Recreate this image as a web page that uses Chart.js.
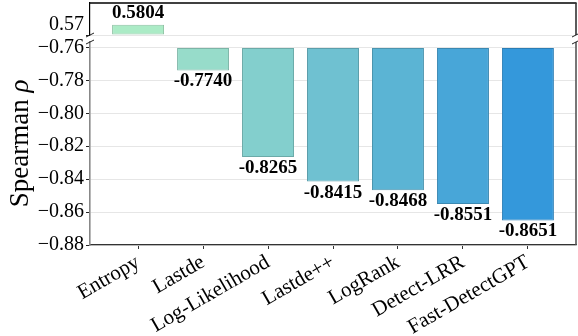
<!DOCTYPE html>
<html>
<head>
<meta charset="utf-8">
<script src="https://cdn.jsdelivr.net/npm/chart.js@4.4.1/dist/chart.umd.min.js"></script>
<style>
  html, body { margin: 0; padding: 0; background: #fff; }
  #wrap { position: relative; width: 578px; height: 336px; overflow: hidden; background: #fff; }
  #upper { position: absolute; left: 0; top: 0; width: 578px; height: 38px; }
  #lower { position: absolute; left: 0; top: 38px; width: 578px; height: 298px; }
</style>
</head>
<body>
<div id="wrap">
  <div id="upper"><canvas id="cUpper"></canvas></div>
  <div id="lower"><canvas id="cLower"></canvas></div>
</div>
<script>
// Detector names and their Spearman correlation
const categories = ['Entropy', 'Lastde', 'Log-Likelihood', 'Lastde++', 'LogRank', 'Detect-LRR', 'Fast-DetectGPT'];
const spearman = [0.5804, -0.7740, -0.8265, -0.8415, -0.8468, -0.8551, -0.8651];

// Tick values for the two halves of the broken axis
const upperTicks = [0.57];
const lowerTicks = [-0.88, -0.86, -0.84, -0.82, -0.80, -0.78, -0.76];

// Bars hang from the edge of each panel
const upperBase = 0.57;
const lowerBase = -0.76;

// Green-to-blue palette, one colour per detector
const barColors = ['#abebc6', '#97dcca', '#83cfcd', '#6fc1d1', '#5bb4d4', '#48a6d8', '#3498db'];

const SERIF = '"Liberation Serif", "DejaVu Serif", "Times New Roman", serif';

function darken(hex, f) {
  const n = parseInt(hex.slice(1), 16);
  const r = Math.round(((n >> 16) & 255) * f);
  const g = Math.round(((n >> 8) & 255) * f);
  const b = Math.round((n & 255) * f);
  return `rgb(${r},${g},${b})`;
}
const edgeColors = barColors.map(c => darken(c, 0.82));

function fmtTick(v) {
  return (v < 0 ? '\u2212' : '') + Math.abs(v).toFixed(2);
}

// Value labels under (negative) or above (positive) each bar
const valueLabels = {
  id: 'valueLabels',
  afterDatasetsDraw(chart) {
    const ctx = chart.ctx;
    const ds = chart.data.datasets[0];
    const meta = chart.getDatasetMeta(0);
    ctx.save();
    ctx.font = `bold 19px ${SERIF}`;
    ctx.fillStyle = '#000';
    ctx.textAlign = 'center';
    ctx.textBaseline = 'middle';
    meta.data.forEach((el, i) => {
      const v = ds.data[i].y;
      if (v == null) return;
      const txt = v.toFixed(4);
      ctx.fillText(txt, el.x, v < 0 ? el.y + 11 : el.y - 12);
    });
    ctx.restore();
  }
};

// Remaining spines and the diagonal break marks
const frame = {
  id: 'frame',
  afterDraw(chart, args, opts) {
    const { ctx, chartArea: a } = chart;
    ctx.save();
    ctx.lineCap = 'butt';
    if (opts.top) {
      ctx.strokeStyle = '#000';
      ctx.lineWidth = 1.4;
      ctx.beginPath();
      ctx.moveTo(a.left - 0.6, a.top);
      ctx.lineTo(a.right + 0.6, a.top);
      ctx.stroke();
    }
    ctx.strokeStyle = opts.rightColor;
    ctx.lineWidth = 1.6;
    ctx.beginPath();
    ctx.moveTo(a.right, a.top);
    ctx.lineTo(a.right, a.bottom);
    ctx.stroke();
    // break marks
    const y = opts.breakAt === 'bottom' ? a.bottom : a.top;
    ctx.strokeStyle = '#222';
    ctx.lineWidth = 1;
    [a.left, a.right].forEach(x => {
      ctx.beginPath();
      ctx.moveTo(x - 4, y + 2);
      ctx.lineTo(x + 4, y - 2);
      ctx.stroke();
    });
    ctx.restore();
  }
};

// Axis title shared by both panels, with an italic rho
const yTitle = {
  id: 'yTitle',
  afterDraw(chart, args, opts) {
    const ctx = chart.ctx;
    ctx.save();
    ctx.translate(opts.x, opts.y);
    ctx.rotate(-Math.PI / 2);
    ctx.fillStyle = '#000';
    ctx.textBaseline = 'alphabetic';
    const fUp = `27px ${SERIF}`;
    const fIt = `italic 27px ${SERIF}`;
    const a = 'Spearman ';
    const b = '\u03c1';
    ctx.font = fUp; const wa = ctx.measureText(a).width;
    ctx.font = fIt; const wb = ctx.measureText(b).width;
    const start = -(wa + wb) / 2;
    ctx.font = fUp; ctx.textAlign = 'left';
    ctx.fillText(a, start, 0);
    ctx.font = fIt;
    ctx.fillText(b, start + wa, 0);
    ctx.restore();
  }
};

const xMin = -0.74, xMax = 6.74;
const categoryTicks = s => { s.ticks = categories.map((c, i) => ({ value: i })); };

function barDataset(keep, base) {
  return {
    data: categories.map((c, i) => ({ x: i, y: keep(spearman[i]) ? spearman[i] : null })),
    base: base,
    backgroundColor: barColors,
    borderColor: edgeColors,
    borderWidth: 1,
    borderSkipped: false,
    barPercentage: 0.8,
    categoryPercentage: 1.0
  };
}

const common = {
  responsive: true,
  maintainAspectRatio: false,
  devicePixelRatio: 1,
  animation: false,
  events: []
};

// Upper panel: the positive correlation
new Chart(document.getElementById('cUpper'), {
  type: 'bar',
  data: { datasets: [barDataset(v => v >= 0, upperBase)] },
  options: Object.assign({}, common, {
    layout: { padding: { top: 3, right: 2, bottom: 3, left: 0 } },
    plugins: {
      legend: { display: false }, tooltip: { enabled: false },
      frame: { top: true, rightColor: '#333', breakAt: 'bottom' }
    },
    scales: {
      x: {
        type: 'linear', min: xMin, max: xMax, offset: false, display: false,
        grid: { offset: false },
        afterBuildTicks: categoryTicks
      },
      y: {
        min: 0.57, max: 0.6025,
        afterBuildTicks: s => { s.ticks = upperTicks.map(v => ({ value: v })); },
        afterFit: s => { s.width = 90; s.paddingTop = 0; s.paddingBottom = 0; },
        ticks: { font: { family: SERIF, size: 20 }, color: '#000', padding: 2, labelOffset: -10, callback: fmtTick },
        grid: { color: '#e6e6e6', lineWidth: 1, tickColor: '#222', tickLength: 4 },
        border: { color: '#000', width: 1.2 }
      }
    }
  }),
  plugins: [valueLabels, frame]
});

// Lower panel: the negative correlations
new Chart(document.getElementById('cLower'), {
  type: 'bar',
  data: { datasets: [barDataset(v => v < 0, lowerBase)] },
  options: Object.assign({}, common, {
    layout: { padding: { top: 4, right: 2, bottom: 0, left: 0 } },
    plugins: {
      legend: { display: false }, tooltip: { enabled: false },
      frame: { top: false, rightColor: '#555', breakAt: 'top' },
      yTitle: { x: 28, y: 105.5 }
    },
    scales: {
      x: {
        type: 'linear', min: xMin, max: xMax, offset: false,
        afterBuildTicks: categoryTicks,
        afterFit: s => { s.height = 91; s.paddingLeft = 0; s.paddingRight = 0; },
        ticks: {
          autoSkip: false, minRotation: 30, maxRotation: 30,
          font: { family: SERIF, size: 21 }, color: '#000', padding: 1,
          callback: v => categories[v]
        },
        grid: { offset: false, drawOnChartArea: false, tickColor: '#333', tickLength: 4 },
        border: { color: '#333', width: 1.2 }
      },
      y: {
        min: -0.88, max: -0.7567,
        afterBuildTicks: s => { s.ticks = lowerTicks.map(v => ({ value: v })); },
        afterFit: s => { s.width = 90; s.paddingTop = 0; s.paddingBottom = 0; },
        ticks: { font: { family: SERIF, size: 20 }, color: '#000', padding: 2, callback: fmtTick },
        grid: { color: '#e6e6e6', lineWidth: 1, tickColor: '#222', tickLength: 4 },
        border: { color: '#888', width: 1.6 }
      }
    }
  }),
  plugins: [valueLabels, frame, yTitle]
});
</script>
</body>
</html>
